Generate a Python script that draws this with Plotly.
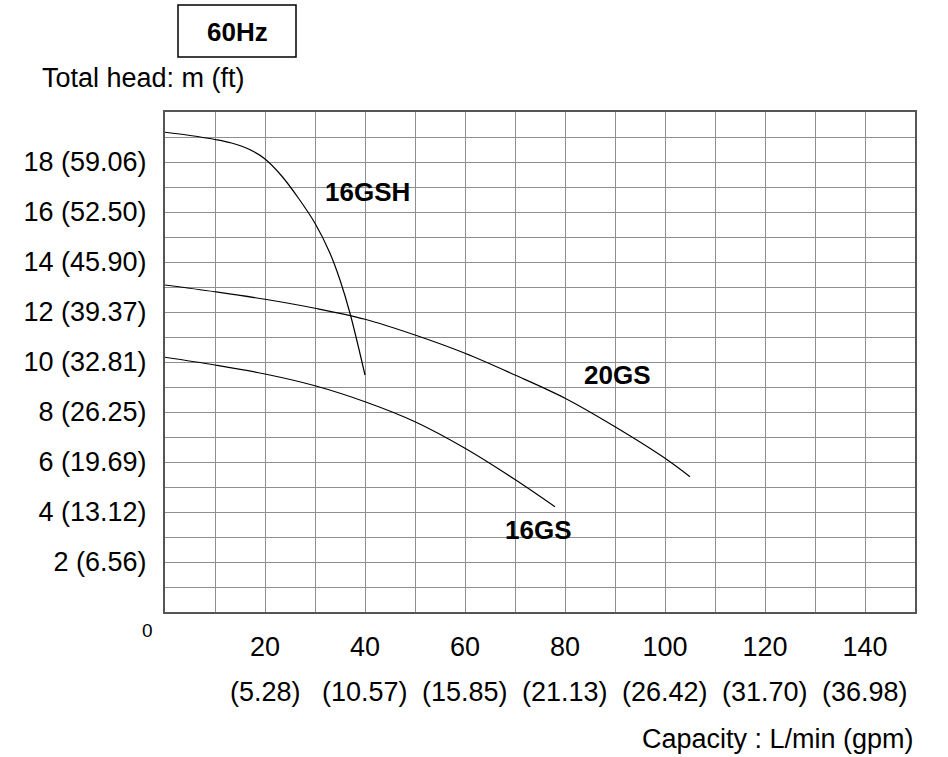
import plotly.graph_objects as go

# Data (capacity L/min, total head m)
gsh16_q = [0, 5, 10, 13.3, 16.7, 20, 23.3, 26.7, 30, 33, 35, 37, 40]
gsh16_h = [19.19, 19.06, 18.90, 18.76, 18.52, 18.12, 17.45, 16.55, 15.55, 14.35, 13.28, 11.95, 9.48]

gs20_q = [0, 10, 20, 30, 40, 50, 60, 70, 80, 90, 100, 105]
gs20_h = [13.08, 12.81, 12.51, 12.15, 11.71, 11.08, 10.35, 9.48, 8.55, 7.41, 6.15, 5.41]

gs16_q = [0, 10, 20, 30, 40, 50, 60, 70, 78]
gs16_h = [10.19, 9.88, 9.52, 9.05, 8.41, 7.61, 6.55, 5.30, 4.21]

x_tick_vals = [20, 40, 60, 80, 100, 120, 140]
x_tick_text = ["20", "40", "60", "80", "100", "120", "140"]
x_gpm_text = ["(5.28)", "(10.57)", "(15.85)", "(21.13)", "(26.42)", "(31.70)", "(36.98)"]

y_tick_vals = [2, 4, 6, 8, 10, 12, 14, 16, 18]
y_tick_text = ["2 (6.56)", "4 (13.12)", "6 (19.69)", "8 (26.25)", "10 (32.81)",
               "12 (39.37)", "14 (45.90)", "16 (52.50)", "18 (59.06)"]

curve_labels = ["16GSH", "20GS", "16GS"]
label_q = [40.4, 90.4, 74.6]
label_h = [16.8, 9.48, 3.28]

FONT = "Liberation Sans, Arial, sans-serif"

# plot area target (165..915, 112..612) in window pixels; body margin removed by post_script
W, H = 948, 757
ML, MR, MT, MB = 165, 33, 112, 145
PW, PH = W - ML - MR, H - MT - MB  # 750 x 500


def px_x(px):
    return (px - ML) / PW


def px_y(py):
    return (H - MB - py) / PH


fig = go.Figure()
for q, h, name in [(gsh16_q, gsh16_h, "16GSH"), (gs20_q, gs20_h, "20GS"), (gs16_q, gs16_h, "16GS")]:
    fig.add_trace(go.Scatter(x=q, y=h, mode="lines", name=name,
                             line=dict(color="black", width=1.2, shape="spline", smoothing=1.0),
                             showlegend=False, hoverinfo="skip"))

annotations = []
for t, q, h in zip(curve_labels, label_q, label_h):
    annotations.append(dict(x=q, y=h, xref="x", yref="y", text="<b>%s</b>" % t, showarrow=False,
                            xanchor="center", yanchor="middle",
                            font=dict(family=FONT, size=26, color="black")))
for v, t in zip(x_tick_vals, x_gpm_text):
    annotations.append(dict(x=v, y=px_y(692), xref="x", yref="paper", text=t, showarrow=False,
                            xanchor="center", yanchor="middle",
                            font=dict(family=FONT, size=27, color="black")))
annotations.append(dict(x=px_x(916), y=px_y(739), xref="paper", yref="paper", text="Capacity : L/min (gpm)",
                        showarrow=False, xanchor="right", yanchor="middle",
                        font=dict(family=FONT, size=27, color="black")))
annotations.append(dict(x=px_x(147), y=px_y(630), xref="paper", yref="paper", text="0",
                        showarrow=False, xanchor="center", yanchor="middle",
                        font=dict(family="Liberation Sans Narrow, " + FONT, size=19, color="black")))
annotations.append(dict(x=px_x(40), y=px_y(78), xref="paper", yref="paper", text="Total head: m (ft)",
                        showarrow=False, xanchor="left", yanchor="middle",
                        font=dict(family=FONT, size=27, color="black")))
annotations.append(dict(x=px_x(237), y=px_y(32), xref="paper", yref="paper",
                        text="<b>60Hz</b>", showarrow=False, xanchor="center", yanchor="middle",
                        font=dict(family=FONT, size=26, color="black")))

fig.update_layout(
    width=W, height=H,
    margin=dict(l=ML, r=MR, t=MT, b=MB),
    paper_bgcolor="white", plot_bgcolor="white",
    annotations=annotations,
    shapes=[dict(type="rect", xref="paper", yref="paper",
                 x0=px_x(178), x1=px_x(296), y0=px_y(57), y1=px_y(5),
                 line=dict(color="black", width=1.5), fillcolor="white", layer="below")],
)

fig.update_xaxes(range=[0, 150], showgrid=True, gridcolor="#8f8f8f", gridwidth=1.3,
                 tickmode="array", tickvals=x_tick_vals, ticktext=x_tick_text,
                 showline=True, linecolor="#555555", linewidth=2, mirror=True,
                 zeroline=False, ticks="", ticklabelstandoff=10,
                 tickfont=dict(family=FONT, size=27, color="black"))
fig.update_xaxes(minor=dict(dtick=10, tick0=0, showgrid=True, gridcolor="#8f8f8f", gridwidth=1.3))
fig.update_yaxes(range=[0, 20], showgrid=True, gridcolor="#8f8f8f", gridwidth=1.3,
                 tickmode="array", tickvals=y_tick_vals, ticktext=y_tick_text,
                 showline=True, linecolor="#555555", linewidth=2, mirror=True,
                 zeroline=False, ticks="", ticklabelstandoff=11,
                 tickfont=dict(family=FONT, size=27, color="black"))
fig.update_yaxes(minor=dict(dtick=1, tick0=0, showgrid=True, gridcolor="#8f8f8f", gridwidth=1.3))

fig.write_html("out.html", config={"displayModeBar": False},
               post_script="document.body.style.margin='0';")
